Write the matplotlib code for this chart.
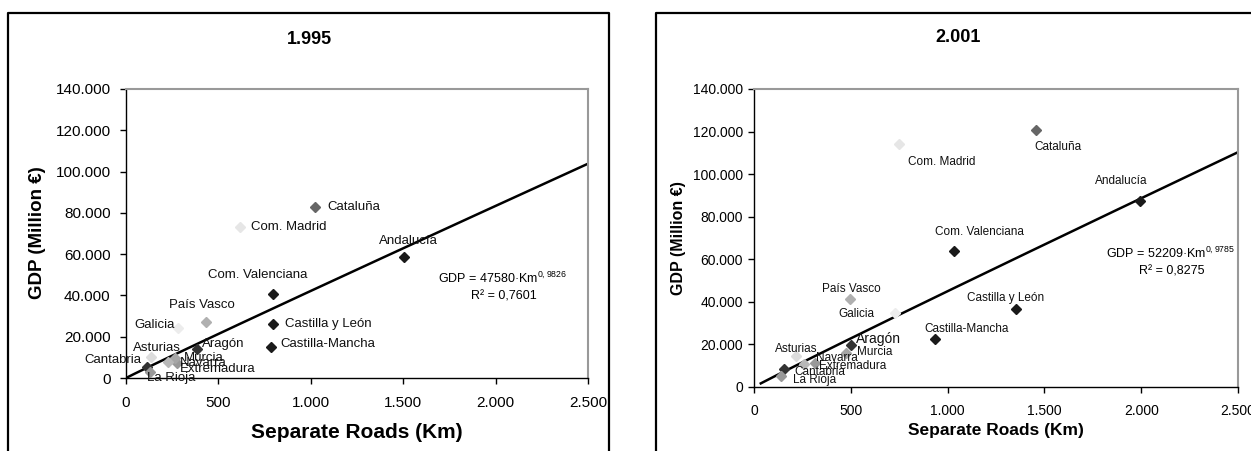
import matplotlib.pyplot as plt
import numpy as np
from matplotlib.ticker import FuncFormatter, MultipleLocator
from matplotlib.lines import Line2D

plt.rcParams['font.family'] = ['Liberation Sans', 'DejaVu Sans']
plt.rcParams['mathtext.default'] = 'regular'

regions = ['Andalucía', 'Aragón', 'Asturias', 'Cantabria', 'Castilla y León',
           'Castilla-Mancha', 'Cataluña', 'Com. Valenciana', 'Extremadura',
           'Galicia', 'Com. Madrid', 'Murcia', 'Navarra', 'País Vasco', 'La Rioja']

km_1995 = [1503, 383, 134, 113, 796, 786, 1024, 796, 278, 284, 617, 265, 228, 432, 128]
gdp_1995 = [58500, 13900, 10300, 5300, 26100, 14900, 82700, 40800, 7400, 24400, 73300, 9500, 7600, 27300, 3100]

km_2001 = [1996, 500, 215, 153, 1351, 934, 1459, 1033, 316, 729, 748, 475, 258, 496, 138]
gdp_2001 = [87500, 19700, 14700, 8600, 36800, 22600, 120700, 63700, 11300, 34800, 114000, 15900, 11000, 41500, 5000]

# power trend lines  GDP = a * Km^b
fit_1995 = (47.58, 0.9826, 0, 2500)
fit_2001 = (52.209, 0.9785, 35, 2500)
eq_1995 = ['GDP = 47580·Km$^{0,9826}$', 'R² = 0,7601']
eq_2001 = ['GDP = 52209·Km$^{0,9785}$', 'R² = 0,8275']

colors = ['#1a1a1a', '#333333', '#dcdcdc', '#333333', '#1a1a1a',
          '#1a1a1a', '#666666', '#1a1a1a', '#999999',
          '#ececec', '#e6e6e6', '#a6a6a6', '#b8b8b8', '#b0b0b0', '#999999']

# label anchor points (left edge, vertical centre), data coords
lab_1995 = [(1370, 66200), (410, 16700), (39, 14700), (-226, 8600), (858, 26400),
            (833, 16700), (1087, 83000), (444, 49800), (289, 4200),
            (47, 25600), (679, 73300), (313, 9900), (289, 7400), (231, 35600), (116, 0)]
lab_2001 = [(1762, 96600), (529, 22500), (110, 17800), (209, 7000), (1101, 41800),
            (878, 27200), (1446, 112900), (936, 72800), (337, 10000),
            (434, 34400), (795, 105700), (533, 16400), (322, 13800), (353, 46000), (202, 3400)]

W, H = 1251, 451
fig = plt.figure(figsize=(W / 100, H / 100), dpi=100)


def fx(px):
    return px / W


def fy(py):
    return 1 - py / H


def thousands(v, pos):
    return f'{int(v):,}'.replace(',', '.')


def panel(rect, km, gdp, fit, eq, labs, eq_pos, tick_fs, lab_fs, tick_pad):
    ax = fig.add_axes(rect)
    ax.set_xlim(0, 2500)
    ax.set_ylim(0, 140000)
    ax.xaxis.set_major_locator(MultipleLocator(500))
    ax.yaxis.set_major_locator(MultipleLocator(20000))
    ax.xaxis.set_major_formatter(FuncFormatter(thousands))
    ax.yaxis.set_major_formatter(FuncFormatter(thousands))
    ax.tick_params(labelsize=tick_fs, length=4, width=1, colors='black')
    ax.tick_params(axis='y', pad=tick_pad[0])
    ax.tick_params(axis='x', pad=tick_pad[1])
    for s in ['top', 'right']:
        ax.spines[s].set_color('#999999')
        ax.spines[s].set_linewidth(1.5)
    for s in ['left', 'bottom']:
        ax.spines[s].set_color('black')
        ax.spines[s].set_linewidth(1)

    a, b, x0, x1 = fit
    xs = np.linspace(x0, x1, 200)
    ax.plot(xs, a * xs ** b, color='black', lw=1.8, zorder=2)

    for i, name in enumerate(regions):
        ax.plot(km[i], gdp[i], marker='D', ms=5, color=colors[i], ls='none',
                zorder=3, clip_on=False)
        fs = lab_fs + 1.5 if (name == 'Aragón' and lab_fs < 9) else lab_fs
        ax.text(labs[i][0], labs[i][1], name, fontsize=fs, ha='left',
                va='center', color='#111111', clip_on=False, zorder=4)

    ax.text(eq_pos[0], eq_pos[1], eq[0], fontsize=9, ha='left', va='center')
    ax.text(eq_pos[2], eq_pos[3], eq[1], fontsize=9, ha='center', va='center')
    return ax


panel([fx(126), fy(378), fx(588) - fx(126), fy(89) - fy(378)],
      km_1995, gdp_1995, fit_1995, eq_1995, lab_1995,
      (1687, 48200, 2043, 39700), 11, 9.5, (7, 9))
panel([fx(754), fy(387), fx(1238) - fx(754), fy(89) - fy(387)],
      km_2001, gdp_2001, fit_2001, eq_2001, lab_2001,
      (1818, 62600, 2159, 54300), 10, 8.5, (4, 8))

# titles and axis labels
fig.text(fx(309), fy(39), '1.995', fontsize=13, fontweight='bold', ha='center', va='center')
fig.text(fx(958), fy(38), '2.001', fontsize=13, fontweight='bold', ha='center', va='center')
fig.text(fx(357), fy(433), 'Separate Roads (Km)', fontsize=15, fontweight='bold', ha='center', va='center')
fig.text(fx(996), fy(430), 'Separate Roads (Km)', fontsize=12.5, fontweight='bold', ha='center', va='center')
fig.text(fx(38), fy(233), 'GDP (Million €)', fontsize=13.5, fontweight='bold', rotation=90, ha='center', va='center')
fig.text(fx(678), fy(238), 'GDP (Million €)', fontsize=11.5, fontweight='bold', rotation=90, ha='center', va='center')

# outer chart frames
fig.add_artist(Line2D([fx(8), fx(8), fx(609), fx(609)], [fy(460), fy(13), fy(13), fy(460)],
                      color='black', lw=1.6, transform=fig.transFigure))
fig.add_artist(Line2D([fx(656), fx(656), fx(1260)], [fy(460), fy(13), fy(13)],
                      color='black', lw=1.6, transform=fig.transFigure))

fig.savefig('out.png', dpi=100)
